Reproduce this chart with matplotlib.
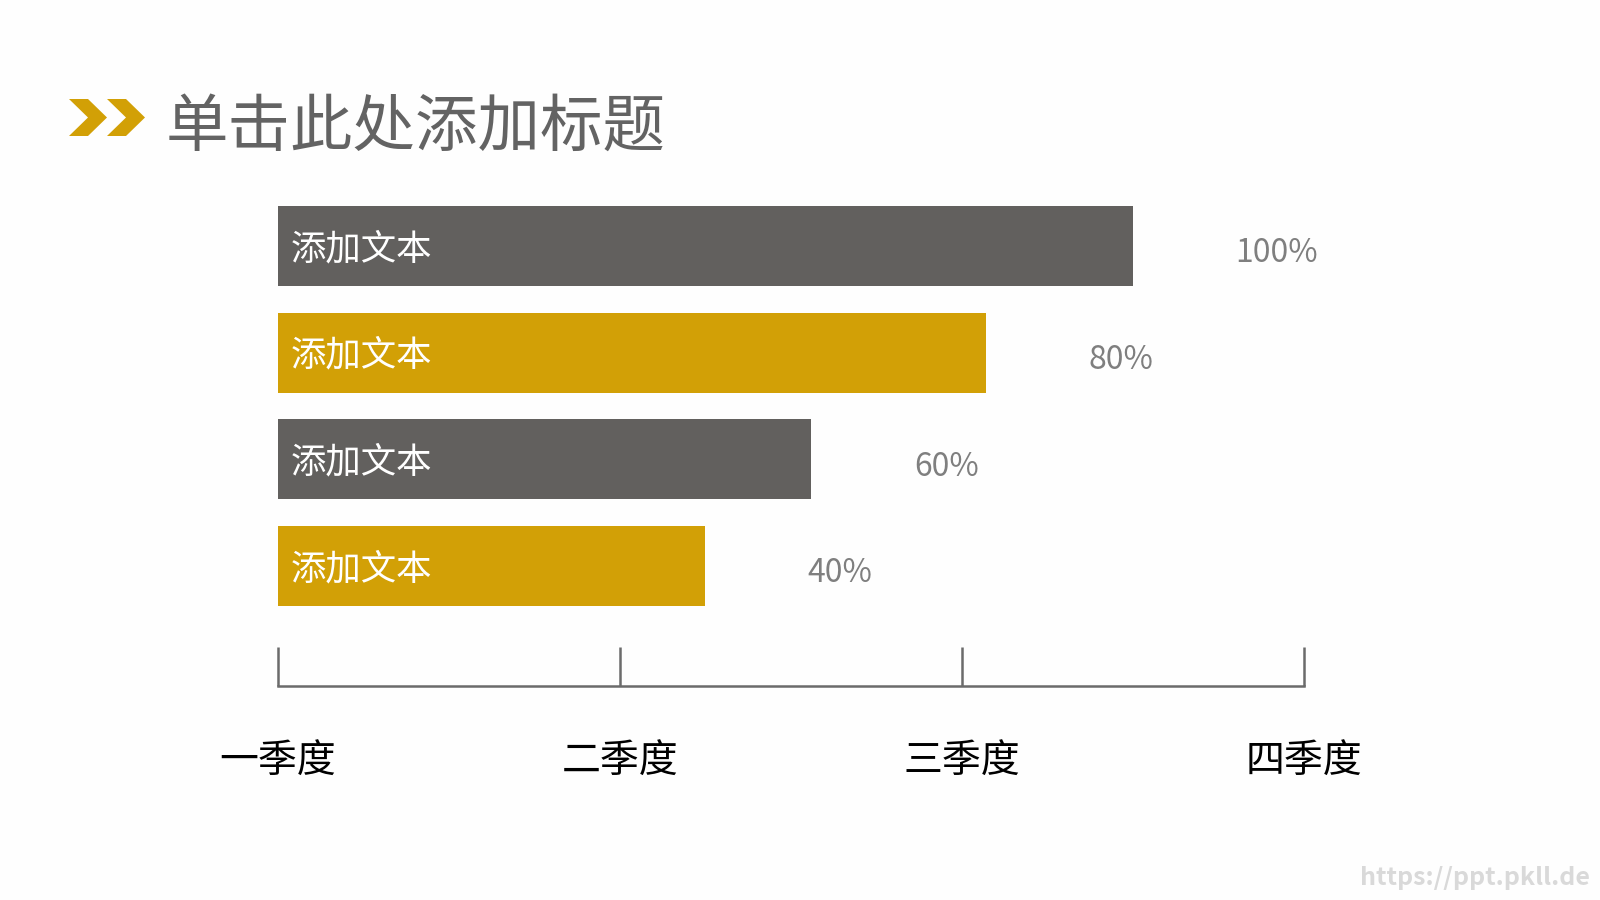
import matplotlib
matplotlib.use("Agg")
import matplotlib.pyplot as plt
from matplotlib.patches import Polygon

plt.rcParams['font.family'] = ['Noto Sans CJK SC', 'DejaVu Sans']

# chart data
title = "单击此处添加标题"
bar_texts = ["添加文本", "添加文本", "添加文本", "添加文本"]
bar_lengths = [2.5, 2.07, 1.56, 1.25]          # in quarter units
pct_labels = ["100%", "80%", "60%", "40%"]
quarters = ["一季度", "二季度", "三季度", "四季度"]
watermark = "https://ppt.pkll.de"

GRAY = "#62605e"
GOLD = "#d2a006"
bar_colors = [GRAY, GOLD, GRAY, GOLD]

fig = plt.figure(figsize=(16, 9), dpi=100)
fig.patch.set_facecolor("#fefefe")

# axes placed in pixel terms: x 277..1304, y 206..686
W, H = 1600, 900
ax = fig.add_axes([277.5 / W, 1 - 686 / H, (1304 - 277.5) / W, (686 - 206) / H])
ax.set_facecolor("none")

ypos = list(range(len(bar_lengths)))
ax.barh(ypos, bar_lengths, height=0.75, color=bar_colors, left=0)
ax.set_xlim(0, 3)
ax.set_ylim(4.125, -0.375)

for y, txt, length, pct in zip(ypos, bar_texts, bar_lengths, pct_labels):
    ax.text(0.04, y + 0.03, txt, color="white", fontsize=25.5, va="center", ha="left")
    ax.text(length + 0.3, y + 0.07, pct, color="#7f7f7f", fontsize=23,
            va="center", ha="left")

for s in ["top", "left", "right"]:
    ax.spines[s].set_visible(False)
ax.spines["bottom"].set_color("#6b6b6b")
ax.spines["bottom"].set_linewidth(1.8)
ax.set_yticks([])
ax.set_xticks(range(len(quarters)))
ax.set_xticklabels(quarters, fontsize=28, color="black")
ax.tick_params(axis="x", direction="in", length=28, width=1.8,
               color="#6b6b6b", pad=40)

# title with chevron marker
for x0 in (69, 107):
    w, t = 38, 19
    top, bot = 99, 136
    mid = (top + bot) / 2
    pts = [(x0, top), (x0 + t, top), (x0 + w, mid), (x0 + t, bot), (x0, bot), (x0 + w - t, mid)]
    pts = [(px / W, 1 - py / H) for px, py in pts]
    fig.patches.append(Polygon(pts, closed=True, transform=fig.transFigure,
                               facecolor=GOLD, edgecolor="none"))
fig.text(166 / W, 1 - 128 / H, title, fontsize=45, color="#636363",
         va="center", ha="left")

fig.text(1590 / W, 1 - 878 / H, watermark, fontsize=18, color="#d9d9d9",
         fontweight="bold", va="center", ha="right")

fig.savefig("out.png", dpi=100, facecolor=fig.get_facecolor())
